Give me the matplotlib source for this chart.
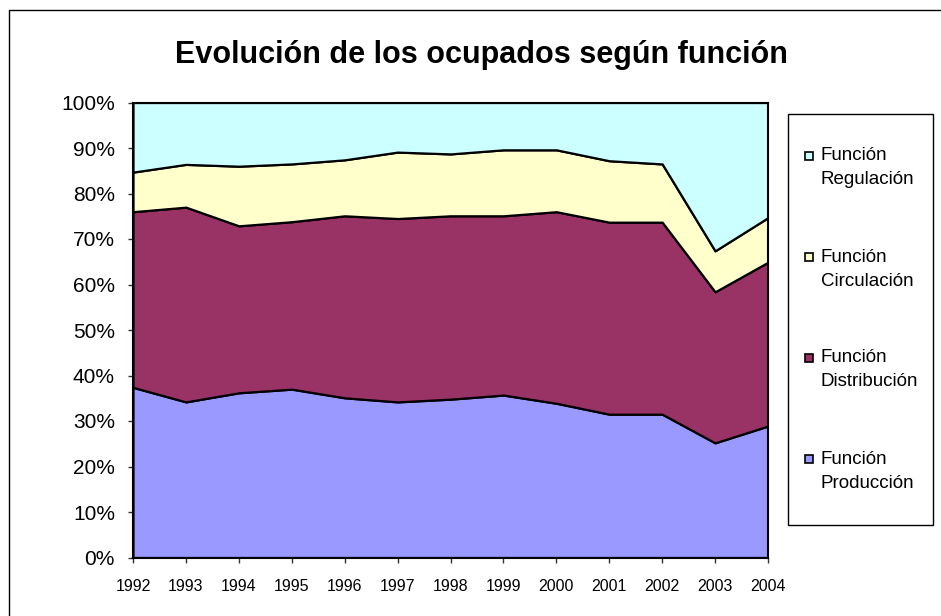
import matplotlib
matplotlib.use("Agg")
import matplotlib.pyplot as plt
from matplotlib.patches import Rectangle
import numpy as np

plt.rcParams['font.family'] = ['Liberation Sans', 'DejaVu Sans']

years = [1992, 1993, 1994, 1995, 1996, 1997, 1998, 1999, 2000, 2001, 2002, 2003, 2004]

# shares in %
produccion = [37.4, 34.2, 36.2, 37.0, 35.1, 34.2, 34.8, 35.7, 33.9, 31.5, 31.5, 25.2, 28.9]
distribucion = [38.6, 42.8, 36.7, 36.8, 40.0, 40.3, 40.3, 39.4, 42.1, 42.2, 42.2, 33.2, 36.0]
circulacion = [8.7, 9.4, 13.1, 12.7, 12.3, 14.6, 13.6, 14.5, 13.6, 13.5, 12.8, 9.0, 9.8]
regulacion = [15.3, 13.6, 14.0, 13.5, 12.6, 10.9, 11.3, 10.4, 10.4, 12.8, 13.5, 32.6, 25.3]

labels = ["Función\nProducción", "Función\nDistribución",
          "Función\nCirculación", "Función\nRegulación"]
colors = ["#9999FF", "#993366", "#FFFFCC", "#CCFFFF"]

W, H = 941, 616
fig = plt.figure(figsize=(W / 100, H / 100), dpi=100)

# outer chart border (runs off the right and bottom edge)
fig.patches.append(Rectangle((9 / W, -0.05), 1.0, (616 - 10) / H + 0.05,
                             transform=fig.transFigure, fill=False,
                             edgecolor="black", linewidth=1))

ax = fig.add_axes([133 / W, (616 - 557.5) / H, (768 - 133) / W, (557.5 - 102.5) / H])
ax.stackplot(years, produccion, distribucion, circulacion, regulacion,
             colors=colors, edgecolor="black", linewidth=1.6)

ax.set_xlim(1992, 2004)
ax.set_ylim(0, 100)
ax.set_xticks(years)
ax.set_yticks(range(0, 101, 10))
ax.set_yticklabels(["%d%%" % v for v in range(0, 101, 10)], fontsize=15)
ax.tick_params(axis="x", labelsize=11.5, length=3.6, width=1, pad=12, color="#333333")
ax.tick_params(axis="y", length=3.6, width=1, pad=9.4, color="#333333")
for s in ax.spines.values():
    s.set_linewidth(1.5)
    s.set_color("black")

fig.text(481 / W, (616 - 55) / H, "Evolución de los ocupados según función",
         ha="center", va="center", fontsize=22, fontweight="bold")

# legend box
fig.patches.append(Rectangle((788 / W, (616 - 525) / H), (933 - 788) / W, (525 - 114) / H,
                             transform=fig.transFigure, facecolor="white",
                             edgecolor="black", linewidth=1))
for i in range(4):
    idx = 3 - i
    yc = 156 + i * 101
    fig.patches.append(Rectangle((805 / W, (616 - yc - 4) / H), 8 / W, 8 / H,
                                 transform=fig.transFigure, facecolor=colors[idx],
                                 edgecolor="black", linewidth=1.2))
    first, second = labels[idx].split("\n")
    fig.text(821 / W, (616 - yc) / H, first, ha="left", va="center", fontsize=13.5)
    fig.text(821 / W, (616 - yc - 24) / H, second, ha="left", va="center", fontsize=13.5)

fig.savefig("out.png", dpi=100)
